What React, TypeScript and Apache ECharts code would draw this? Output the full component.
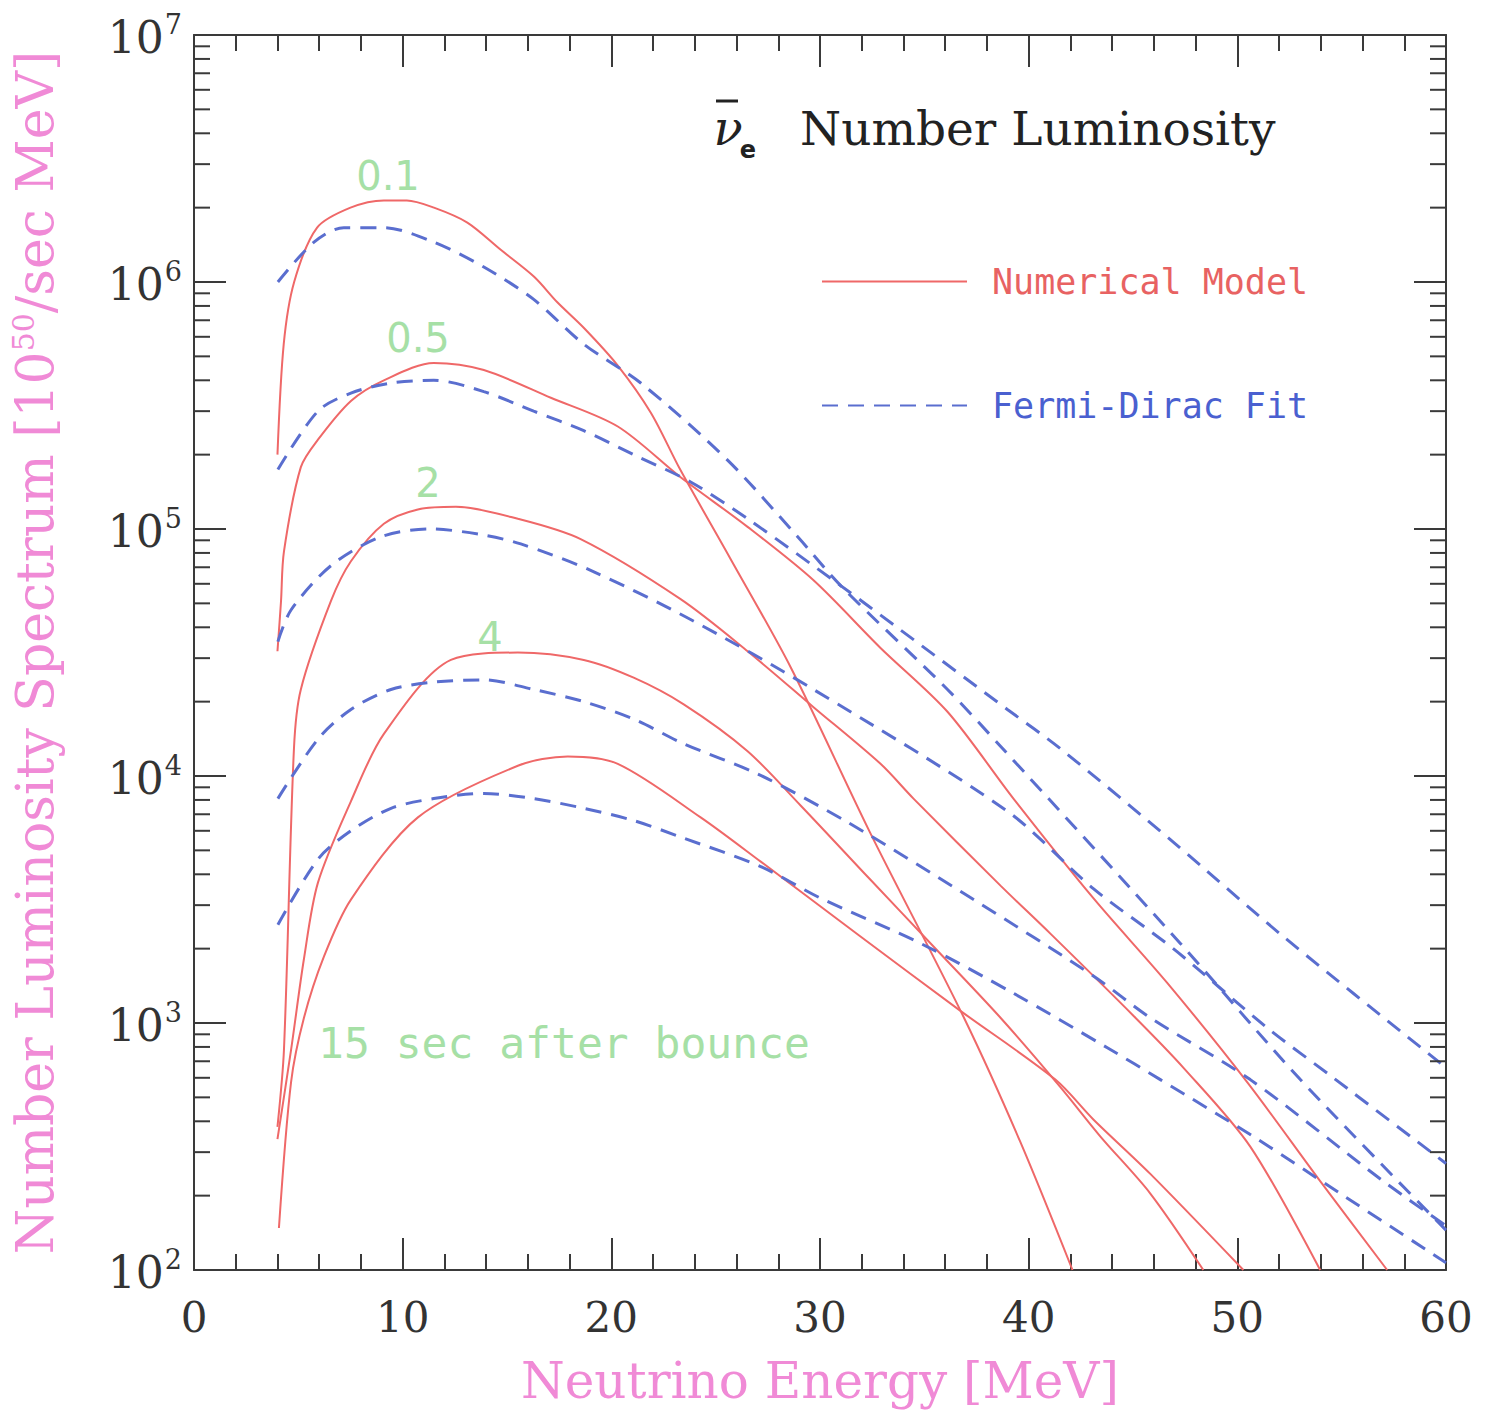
import React, { useEffect, useRef } from "react";
import * as echarts from "echarts";

// ---------- data (x: MeV, y: 10^50 / sec MeV) ----------
const NUM_01_X = [4.0, 4.3, 4.8, 5.9, 7.5, 9.1, 10.2, 11.5, 13.1, 14.7, 16.3, 17.4, 18.7, 20.3, 21.9, 23.3, 25.7, 28.6, 32.4, 36.9, 39.6, 42.1];
const NUM_01_Y = [2.0e5, 5.6e5, 1.0e6, 1.66e6, 2.0e6, 2.14e6, 2.14e6, 2.0e6, 1.74e6, 1.35e6, 1.05e6, 8.3e5, 6.5e5, 4.6e5, 2.95e5, 1.74e5, 7.6e4, 2.75e4, 5.9e3, 1.05e3, 330, 100];

const NUM_05_X = [4.0, 4.17, 4.31, 5.12, 5.94, 7.52, 9.1, 11.49, 13.89, 17.1, 20.31, 23.32, 26.53, 29.69, 32.9, 36.11, 39.27, 43.1, 46.65, 50.48, 53.97, 57.18];
const NUM_05_Y = [3.2e4, 5.1e4, 8.1e4, 1.78e5, 2.3e5, 3.3e5, 4.0e5, 4.7e5, 4.4e5, 3.4e5, 2.6e5, 1.62e5, 1.02e5, 6.2e4, 3.3e4, 1.82e4, 8.1e3, 3.2e3, 1.45e3, 575, 229, 100];

const NUM_2_X = [4.0, 4.31, 4.79, 5.12, 6.56, 7.52, 9.1, 10.73, 12.55, 15.52, 18.53, 23.32, 26.53, 29.69, 32.9, 34.48, 38.65, 41.04, 45.02, 47.41, 50.62, 53.97];
const NUM_2_Y = [380, 776, 1.29e4, 2.24e4, 5.1e4, 7.4e4, 1.05e5, 1.2e5, 1.23e5, 1.1e5, 9.1e4, 5.2e4, 3.2e4, 1.9e4, 1.12e4, 8.1e3, 3.6e3, 2.3e3, 1.07e3, 660, 316, 100];

const NUM_4_X = [4.0, 4.65, 5.27, 5.94, 7.52, 9.1, 12.31, 15.52, 18.68, 21.07, 23.47, 26.53, 29.07, 32.42, 35.44, 38.65, 41.52, 43.44, 45.83, 48.37];
const NUM_4_Y = [339, 776, 1.82e3, 3.7e3, 7.9e3, 1.48e4, 2.95e4, 3.16e4, 2.95e4, 2.5e4, 1.95e4, 1.26e4, 7.6e3, 3.8e3, 2.04e3, 1.05e3, 550, 347, 204, 100];

const NUM_15_X = [4.07, 4.65, 5.27, 6.23, 7.52, 10.73, 15.52, 17.91, 20.31, 24.28, 27.16, 31.94, 36.73, 41.28, 43.1, 45.83, 50.29];
const NUM_15_Y = [148, 575, 1.05e3, 1.86e3, 3.16e3, 6.8e3, 1.1e4, 1.2e4, 1.12e4, 6.8e3, 4.5e3, 2.24e3, 1.12e3, 590, 407, 245, 100];

const FD_01_X = [4.02, 5.75, 7.18, 9.1, 11.49, 13.89, 16.28, 18.68, 21.41, 25.57, 28.93, 30.99, 36.11, 38.65, 47.27, 53.02, 60];
const FD_01_Y = [1.0e6, 1.45e6, 1.66e6, 1.66e6, 1.45e6, 1.15e6, 8.5e5, 5.6e5, 3.9e5, 1.9e5, 9.3e4, 5.9e4, 2.24e4, 1.32e4, 2.1e3, 590, 145];

const FD_05_X = [4.02, 5.94, 7.52, 9.44, 11.49, 13.89, 16.28, 18.68, 21.07, 23.8, 26.53, 30.99, 33.86, 38.98, 41.52, 46.93, 52.2, 60];
const FD_05_Y = [1.74e5, 3.0e5, 3.55e5, 3.9e5, 4.0e5, 3.6e5, 3.0e5, 2.5e5, 2.0e5, 1.55e5, 1.1e5, 5.9e4, 3.9e4, 1.86e4, 1.29e4, 5.4e3, 2.24e3, 660];

const FD_2_X = [4.02, 4.65, 6.56, 8.96, 11.35, 13.75, 15.66, 19.01, 23.8, 29.69, 38.98, 43.1, 46.93, 51.44, 54.6, 60];
const FD_2_Y = [3.5e4, 4.7e4, 7.1e4, 9.3e4, 1.0e5, 9.5e4, 8.7e4, 6.8e4, 4.3e4, 2.24e4, 7.2e3, 3.5e3, 2.0e3, 955, 600, 270];

const FD_4_X = [4.02, 5.94, 7.52, 9.44, 11.49, 13.89, 16.28, 18.68, 21.07, 23.47, 27.01, 31.32, 37.36, 43.1, 45.83, 50.62, 56.99, 60];
const FD_4_Y = [8.1e3, 1.41e4, 1.86e4, 2.24e4, 2.4e4, 2.45e4, 2.24e4, 2.0e4, 1.7e4, 1.35e4, 1.02e4, 6.5e3, 3.16e3, 1.55e3, 1.05e3, 590, 229, 151];

const FD_15_X = [4.02, 5.94, 7.52, 9.44, 11.49, 13.89, 16.28, 18.68, 21.07, 23.47, 27.16, 30.03, 34.82, 39.27, 43.77, 46.31, 50.96, 54.93, 60];
const FD_15_Y = [2.5e3, 4.6e3, 6.0e3, 7.4e3, 8.1e3, 8.5e3, 8.1e3, 7.4e3, 6.6e3, 5.6e3, 4.3e3, 3.2e3, 2.1e3, 1.32e3, 794, 590, 339, 204, 107];

const TIME_LABELS = ["0.1", "0.5", "2", "4"];
const LAST_LABEL = "15 sec after bounce";
const Y_DECADES = [100, 1000, 10000, 100000, 1000000];
const Y_MINOR_MULT = [2, 3, 4, 5, 6, 7, 8, 9];

const RED = "#ef6868";
const BLUE = "#5a6ecf";
const AXIS = "#3a3a3a";
const PINK = "#f08ad6";
const GREEN = "#a6e0a6";
const SERIF = "DejaVu Serif";

const pair = (xs: number[], ys: number[]) => xs.map((x, i) => [x, ys[i]]);

export default function App() {
  const ref = useRef<HTMLDivElement>(null);
  useEffect(() => {
    document.body.style.margin = "0";
    const chart = echarts.init(ref.current!, undefined, { renderer: "svg" });

    const numerical = [
      pair(NUM_01_X, NUM_01_Y),
      pair(NUM_05_X, NUM_05_Y),
      pair(NUM_2_X, NUM_2_Y),
      pair(NUM_4_X, NUM_4_Y),
      pair(NUM_15_X, NUM_15_Y),
    ];
    const fits = [
      pair(FD_01_X, FD_01_Y),
      pair(FD_05_X, FD_05_Y),
      pair(FD_2_X, FD_2_Y),
      pair(FD_4_X, FD_4_Y),
      pair(FD_15_X, FD_15_Y),
    ];
    const minorTicks: number[][] = [];
    Y_DECADES.forEach((d) => Y_MINOR_MULT.forEach((m) => minorTicks.push([0, d * m])));

    const tickStyle = { color: AXIS, width: 2 };
    const xBase = {
      type: "value",
      min: 0,
      max: 60,
      interval: 10,
      axisLine: { show: true, onZero: false, lineStyle: tickStyle },
      axisTick: { show: true, inside: true, length: 32, lineStyle: tickStyle },
      minorTick: { show: true, splitNumber: 5, length: 16, lineStyle: tickStyle },
      splitLine: { show: false },
    };
    const yBase = {
      type: "log",
      logBase: 10,
      min: 100,
      max: 1e7,
      axisLine: { show: true, onZero: false, lineStyle: tickStyle },
      axisTick: { show: true, inside: true, length: 32, lineStyle: tickStyle },
      minorTick: { show: false },
      splitLine: { show: false },
    };

    const gText = (text: string, x: number, y: number, font: number, color: string, family: string, align = "center", extra: any = {}) => ({
      type: "text",
      x,
      y,
      style: { text, fontSize: font, fontFamily: family, fill: color, align, verticalAlign: "middle", ...extra },
      silent: true,
    });

    const option: any = {
      animation: false,
      backgroundColor: "#ffffff",
      grid: { left: 193, top: 35, width: 1253, height: 1235, containLabel: false },
      xAxis: [
        {
          ...xBase,
          position: "bottom",
          axisLabel: { fontSize: 42, fontFamily: SERIF, color: "#333", margin: 26 },
          name: "Neutrino Energy [MeV]",
          nameLocation: "middle",
          nameGap: 86,
          nameTextStyle: { fontSize: 50, fontFamily: SERIF, color: PINK },
        },
        { ...xBase, position: "top", axisLabel: { show: false } },
      ],
      yAxis: [
        {
          ...yBase,
          position: "left",
          axisLabel: {
            margin: 12,
            formatter: (v: number) => `{b|10}{s|${Math.round(Math.log10(v))}}`,
            rich: {
              b: { fontSize: 44, fontFamily: SERIF, color: "#333", verticalAlign: "bottom", padding: [0, 0, 0, 0] },
              s: { fontSize: 27, fontFamily: SERIF, color: "#333", verticalAlign: "bottom", padding: [0, 0, 21, 1] },
            },
          },
          name: "Number Luminosity Spectrum [10{sup|50}/sec MeV]",
          nameLocation: "middle",
          nameGap: 132,
          nameTextStyle: {
            fontSize: 52,
            fontFamily: SERIF,
            color: PINK,
            rich: { sup: { fontSize: 30, fontFamily: SERIF, color: PINK, verticalAlign: "bottom", padding: [0, 0, 24, 0] } },
          },
        },
        { ...yBase, position: "right", axisLabel: { show: false } },
      ],
      legend: {
        orient: "vertical",
        left: 816,
        top: 259,
        itemWidth: 145,
        itemHeight: 20,
        itemGap: 89,
        selectedMode: false,
        itemStyle: { opacity: 0 },
        data: [
          { name: "Numerical Model", textStyle: { color: "#e86262" } },
          { name: "Fermi-Dirac Fit", textStyle: { color: "#4a60d0" } },
        ],
        textStyle: { fontSize: 35, fontFamily: "DejaVu Sans Mono", padding: [0, 0, 0, 20] },
      },
      series: [
        ...numerical.map((d) => ({
          type: "line",
          name: "Numerical Model",
          data: d,
          symbol: "none",
          smooth: 0.3,
          lineStyle: { color: RED, width: 2 },
          itemStyle: { color: RED },
          z: 3,
        })),
        ...fits.map((d) => ({
          type: "line",
          name: "Fermi-Dirac Fit",
          data: d,
          symbol: "none",
          smooth: 0.3,
          lineStyle: { color: BLUE, width: 3, type: [16, 10] },
          itemStyle: { color: BLUE },
          z: 4,
        })),
        {
          type: "custom",
          name: "y minor ticks",
          data: minorTicks,
          encode: { x: 0, y: 1 },
          silent: true,
          clip: false,
          z: 5,
          renderItem: (_p: any, api: any) => {
            const v = api.value(1);
            const l = api.coord([0, v]);
            const r = api.coord([60, v]);
            return {
              type: "group",
              children: [
                { type: "line", shape: { x1: l[0], y1: l[1], x2: l[0] + 16, y2: l[1] }, style: { stroke: AXIS, lineWidth: 2 } },
                { type: "line", shape: { x1: r[0] - 16, y1: r[1], x2: r[0], y2: r[1] }, style: { stroke: AXIS, lineWidth: 2 } },
              ],
            };
          },
        },
      ],
      graphic: [
        // title with anti-electron-neutrino symbol
        { type: "line", shape: { x1: 716, y1: 101, x2: 738, y2: 101 }, style: { stroke: "#222", lineWidth: 3 }, silent: true },
        gText("ν", 728, 128, 48, "#222", SERIF, "center", { fontStyle: "italic" }),
        gText("e", 748, 150, 24, "#222", "DejaVu Sans", "center", { fontWeight: "bold" }),
        gText("Number Luminosity", 800, 128, 47, "#222", SERIF, "left"),
        // time labels
        gText(TIME_LABELS[0], 388, 176, 40, GREEN, "DejaVu Sans"),
        gText(TIME_LABELS[1], 418, 338, 40, GREEN, "DejaVu Sans"),
        gText(TIME_LABELS[2], 428, 483, 40, GREEN, "DejaVu Sans"),
        gText(TIME_LABELS[3], 490, 637, 40, GREEN, "DejaVu Sans"),
        gText(LAST_LABEL, 318, 1043, 43, GREEN, "DejaVu Sans Mono", "left"),
      ],
    };
    chart.setOption(option);
    return () => chart.dispose();
  }, []);
  return <div ref={ref} style={{ width: 1494, height: 1414 }} />;
}
